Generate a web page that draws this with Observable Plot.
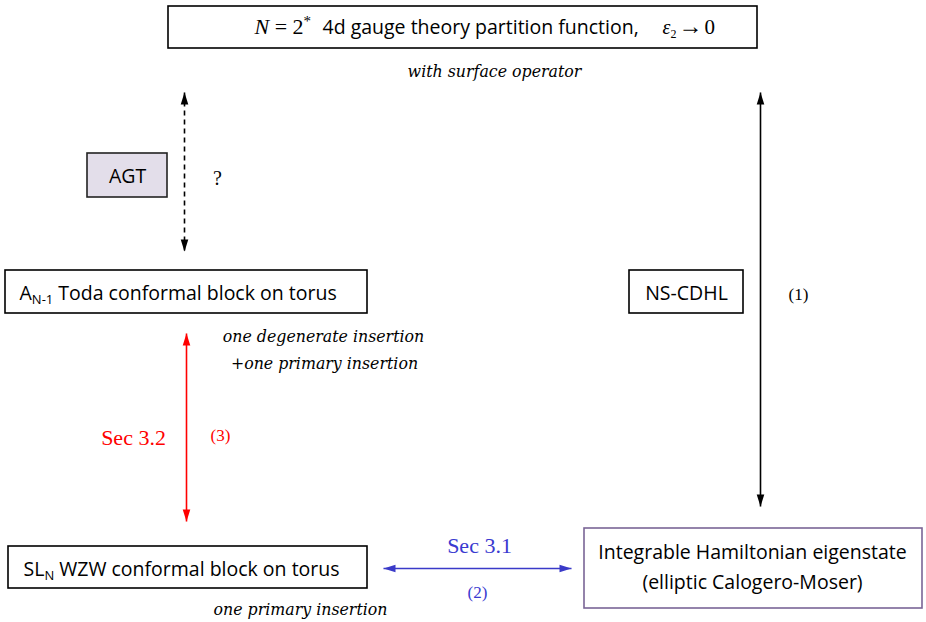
<!DOCTYPE html>
<html><head><meta charset="utf-8">
<script src="https://cdn.jsdelivr.net/npm/d3@7"></script>
<script src="https://cdn.jsdelivr.net/npm/@observablehq/plot@0.6"></script>
<style>body{margin:0;background:#fff} svg{display:block}</style>
</head><body><div id="chart"></div>
<script>
// ---- diagram data ----
const boxIds    = ["gauge", "agt", "toda", "nscdhl", "wzw", "hamiltonian"];
const boxLeft   = [168, 87, 5, 629, 8, 584];
const boxRight  = [757, 167, 367, 743, 367, 922];
const boxTop    = [6, 153, 270, 270, 546, 528];
const boxBottom = [48, 197, 313, 313, 588, 608];
const boxKind   = ["plain", "shaded", "plain", "plain", "plain", "purple"];

const labelTexts = [
  "N = 2* 4d gauge theory partition function, ε2 → 0",
  "with surface operator",
  "AGT",
  "?",
  "AN-1 Toda conformal block on torus",
  "NS-CDHL",
  "(1)",
  "one degenerate insertion",
  "+one primary insertion",
  "Sec 3.2",
  "(3)",
  "SLN WZW conformal block on torus",
  "one primary insertion",
  "Sec 3.1",
  "(2)",
  "Integrable Hamiltonian eigenstate",
  "(elliptic Calogero-Moser)"
];
const labelX = [254, 494, 127, 217, 19, 686, 798, 323, 324, 133, 220, 23, 300, 479, 477, 752, 752];
const labelY = [27, 71, 176, 178, 293, 293, 294, 336, 363, 437, 435, 569, 609, 545, 592, 552, 582];
const labelKind = ["rich", "italic", "sans", "serif", "richSans", "sans", "serifSmall", "italic", "italic",
  "serifRed", "serifRedSmall", "richSans", "italic", "serifBlue", "serifBlueSmall", "sans", "sans"];

const arrowX1 = [184, 760, 186, 383];
const arrowY1 = [92, 92, 333, 568];
const arrowX2 = [184, 760, 186, 571];
const arrowY2 = [251, 506, 521, 568];
const arrowKind = ["dashed", "black", "red", "blue"];

// ---- styles ----
const SANS = "'Open Sans', Lato, sans-serif";
const SERIF = "'Liberation Serif', 'DejaVu Serif', serif";
const ITALIC = "'DejaVu Serif', serif";
const SANS_SIZE = 19.5;
const arrowColor = {dashed: "#000", black: "#000", red: "#ff0000", blue: "#3a3ac8"};
const boxFill = {plain: "#fff", shaded: "#e3deea", purple: "#fff"};
const boxStroke = {plain: "#000", shaded: "#222", purple: "#7a6596"};
const textStyle = {
  rich:          {fontFamily: SERIF, fontSize: 20, fill: "#000", textAnchor: "start"},
  richSans:      {fontFamily: SANS, fontSize: SANS_SIZE, fill: "#000", textAnchor: "start"},
  sans:          {fontFamily: SANS, fontSize: SANS_SIZE, fill: "#000", textAnchor: "middle"},
  italic:        {fontFamily: ITALIC, fontSize: 15.8, fontStyle: "italic", fill: "#000", textAnchor: "middle"},
  serif:         {fontFamily: SERIF, fontSize: 20, fill: "#000", textAnchor: "middle"},
  serifSmall:    {fontFamily: SERIF, fontSize: 17, fill: "#000", textAnchor: "middle"},
  serifRed:      {fontFamily: SERIF, fontSize: 22, fill: "#ff0000", textAnchor: "middle"},
  serifRedSmall: {fontFamily: SERIF, fontSize: 17, fill: "#ff0000", textAnchor: "middle"},
  serifBlue:     {fontFamily: SERIF, fontSize: 22, fill: "#3a3ad0", textAnchor: "middle"},
  serifBlueSmall:{fontFamily: SERIF, fontSize: 17, fill: "#3a3ad0", textAnchor: "middle"}
};

// rich text segments (subscripts / mixed fonts); rx = offset from the label's anchor
const richSegments = {
  "N = 2* 4d gauge theory partition function, ε2 → 0": [
    {t: "N", ff: SERIF, fs: 22, it: true},
    {t: " = 2", ff: SERIF, fs: 22},
    {t: "*", ff: SERIF, fs: 15, dy: -8},
    {t: "4d gauge theory partition function,", ff: SANS, fs: SANS_SIZE, dy: 8, rx: 68},
    {t: "ε", ff: SERIF, fs: 20, it: true, rx: 408},
    {t: "2", ff: SERIF, fs: 12, dy: 4},
    {t: "→", ff: SERIF, fs: 24, dy: -4, dx: 2},
    {t: "0", ff: SERIF, fs: 21, dx: 2}
  ],
  "AN-1 Toda conformal block on torus": [
    {t: "A", ff: SANS, fs: SANS_SIZE},
    {t: "N-1", ff: SANS, fs: 13, dy: 4},
    {t: " Toda conformal block on torus", ff: SANS, fs: SANS_SIZE, dy: -4}
  ],
  "SLN WZW conformal block on torus": [
    {t: "SL", ff: SANS, fs: SANS_SIZE},
    {t: "N", ff: SANS, fs: 13, dy: 4},
    {t: " WZW conformal block on torus", ff: SANS, fs: SANS_SIZE, dy: -4}
  ]
};

// ---- build tables ----
const boxes = boxIds.map((id, i) => ({id, x1: boxLeft[i], x2: boxRight[i], y1: boxTop[i], y2: boxBottom[i], kind: boxKind[i]}));
const labels = labelTexts.map((text, i) => ({text, x: labelX[i], y: labelY[i], kind: labelKind[i]}));
const arrows = arrowKind.map((kind, i) => ({x1: arrowX1[i], y1: arrowY1[i], x2: arrowX2[i], y2: arrowY2[i], kind}));
function headAngle(fx, fy, tx, ty) { // direction from (fx,fy) to tip (tx,ty); symbol points up at 0
  return Math.atan2(tx - fx, -(ty - fy)) * 180 / Math.PI;
}
const heads = arrows.flatMap(a => [
  {x: a.x1, y: a.y1, kind: a.kind, angle: headAngle(a.x2, a.y2, a.x1, a.y1)},
  {x: a.x2, y: a.y2, kind: a.kind, angle: headAngle(a.x1, a.y1, a.x2, a.y2)}
]);
const arrowHead = {
  draw(ctx) { ctx.moveTo(0, 0); ctx.lineTo(3.8, 12); ctx.lineTo(-3.8, 12); ctx.closePath(); }
};

const textMarks = Object.keys(textStyle).map(k =>
  Plot.text(labels.filter(d => d.kind === k), {x: "x", y: "y", text: "text", lineAnchor: "middle", ...textStyle[k]})
);

const W = 926, H = 622;
const svg = Plot.plot({
  width: W, height: H,
  margin: 0,
  x: {domain: [0, W], range: [0, W], axis: null},
  y: {domain: [0, H], range: [0, H], axis: null},
  color: {type: "identity"},
  style: {background: "#fff"},
  marks: [
    Plot.rect(boxes, {x1: "x1", x2: "x2", y1: "y1", y2: "y2", fill: d => boxFill[d.kind], stroke: d => boxStroke[d.kind], strokeWidth: 1.6}),
    Plot.link(arrows.filter(d => d.kind === "dashed"), {x1: "x1", y1: "y1", x2: "x2", y2: "y2", stroke: d => arrowColor[d.kind], strokeWidth: 1.6, strokeDasharray: "5,4"}),
    Plot.link(arrows.filter(d => d.kind !== "dashed"), {x1: "x1", y1: "y1", x2: "x2", y2: "y2", stroke: d => arrowColor[d.kind], strokeWidth: 1.6}),
    Plot.dot(heads, {x: "x", y: "y", rotate: "angle", symbol: arrowHead, r: 5, fill: d => arrowColor[d.kind], stroke: "none"}),
    ...textMarks
  ]
});

// apply rich segments
d3.select(svg).selectAll("text").each(function() {
  const segs = richSegments[this.textContent];
  if (!segs) return;
  const el = d3.select(this);
  el.text(null);
  for (const s of segs) {
    const ts = el.append("tspan").text(s.t)
      .attr("font-family", s.ff).attr("font-size", s.fs);
    if (s.it) ts.attr("font-style", "italic");
    if (s.dy) ts.attr("dy", s.dy);
    if (s.dx) ts.attr("dx", s.dx);
    if (s.rx != null) ts.attr("x", s.rx);
  }
  el.style("white-space", "pre");
});

document.getElementById("chart").appendChild(svg);
</script>
</body></html>
